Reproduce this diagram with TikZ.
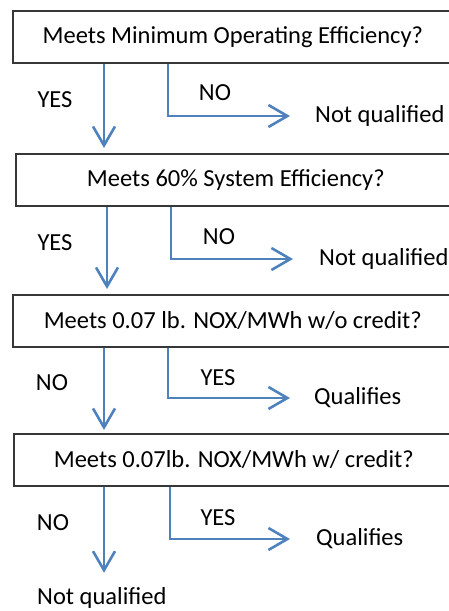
\documentclass[tikz,border=0pt]{standalone}
\usepackage{fontspec}
\setmainfont{Carlito}
\usepackage{xcolor}
\usetikzlibrary{arrows.meta}
\definecolor{bl}{RGB}{79, 129, 189}
\definecolor{bx}{RGB}{55, 55, 55}

\begin{document}
\begin{tikzpicture}[x=1pt, y=-1pt,
    font=\fontsize{24.5}{27}\selectfont,
    box/.style={draw=bx, line width=1.6pt, rectangle, anchor=north west, minimum width=440pt, minimum height=52pt, inner sep=0pt},
    lbl/.style={inner sep=0pt},
    flow/.style={bl, line width=2.6pt, -{Straight Barb[length=19pt, width=22pt, line width=2.6pt]}}]
        \clip (0,0) rectangle (449,611);
        \node[box] (q1) at (12,10) {Meets Minimum Operating Efficiency?};
        \node[box] (q2) at (15,153) {Meets 60\% System Efficiency?};
        \node[box] (q3) at (12,294) {Meets 0.07 lb. NOX/MWh w/o credit?};
        \node[box] (q4) at (13,433) {Meets 0.07lb. NOX/MWh w/ credit?};
        % answers
        \node[lbl, anchor=west] (r1) at (315,116) {Not qualified};
        \node[lbl, anchor=west] (r2) at (319,259) {Not qualified};
        \node[lbl, anchor=west] (r3) at (314,398) {Qualifies};
        \node[lbl, anchor=west] (r4) at (316,539) {Qualifies};
        \node[lbl, anchor=base west] (r5) at (37,604) {Not qualified};
        % branch labels
        \node[lbl] (a1) at (55,100) {YES};
        \node[lbl] (b1) at (215,93) {NO};
        \node[lbl] (a2) at (55,243) {YES};
        \node[lbl] (b2) at (219,237) {NO};
        \node[lbl] (a3) at (52,383) {NO};
        \node[lbl] (b3) at (218,378) {YES};
        \node[lbl] (a4) at (53,523) {NO};
        \node[lbl] (b4) at (218,518) {YES};
        % corners of the side branches
        \coordinate (c1) at (168,116);
        \coordinate (c2) at (171,259);
        \coordinate (c3) at (168,398);
        \coordinate (c4) at (170,539);
        \draw[flow, shorten >=5pt] (q1.south -| 104,0) -- (q2.north -| 104,0);
        \draw[flow, shorten >=5pt] (q2.south -| 107,0) -- (q3.north -| 107,0);
        \draw[flow, shorten >=3pt] (q3.south -| 104,0) -- (q4.north -| 104,0);
        \draw[flow, shorten >=14pt] (q4.south -| 104,0) -- (r5.north -| 104,0);
        \draw[flow] (q1.south -| c1) -- (c1) -- ([xshift=-25pt]r1.west);
        \draw[flow] (q2.south -| c2) -- (c2) -- ([xshift=-26pt]r2.west);
        \draw[flow] (q3.south -| c3) -- (c3) -- ([xshift=-24pt]r3.west);
        \draw[flow] (q4.south -| c4) -- (c4) -- ([xshift=-26pt]r4.west);
    \end{tikzpicture}
\end{document}
